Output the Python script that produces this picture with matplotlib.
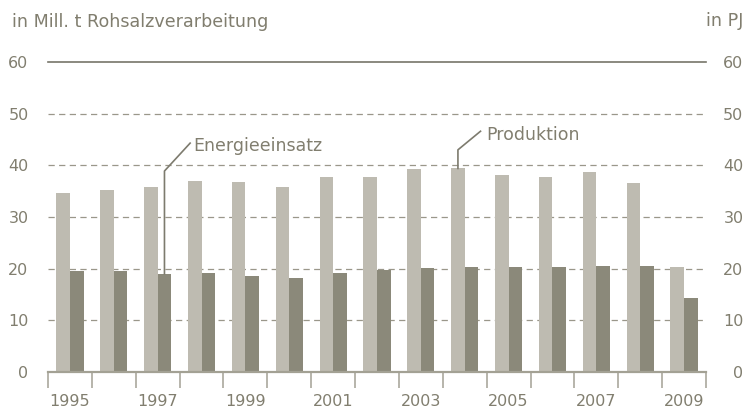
import matplotlib
matplotlib.use("Agg")
import matplotlib.pyplot as plt
import numpy as np

# Daten
jahre = list(range(1995, 2010))
produktion = [34.6, 35.2, 35.8, 37.0, 36.7, 35.8, 37.8, 37.8, 39.2, 39.4, 38.2, 37.8, 38.8, 36.6, 20.4]
energieeinsatz = [19.5, 19.5, 19.0, 19.2, 18.6, 18.1, 19.2, 19.8, 20.1, 20.4, 20.4, 20.4, 20.6, 20.6, 14.3]
y_ticks = [0, 10, 20, 30, 40, 50, 60]

# Farben
hell = "#bebbb1"
dunkel = "#8b897a"
text_farbe = "#817e6f"
linie = "#9a978a"

plt.rcParams["font.family"] = ["DejaVu Sans"]

fig = plt.figure(figsize=(7.48, 4.11), dpi=100)
ax = fig.add_axes([48 / 748, 1 - 372 / 411, (706 - 48) / 748, 310 / 411])

x = np.arange(len(jahre))
breite = 0.31
ax.bar(x - breite / 2, produktion, width=breite, color=hell, zorder=2)
ax.bar(x + breite / 2, energieeinsatz, width=breite, color=dunkel, zorder=2)

ax.set_xlim(-0.5, len(jahre) - 0.5)
ax.set_ylim(0, 60)

# Gitterlinien
for v in y_ticks[1:-1]:
    ax.axhline(v, color=linie, lw=0.9, linestyle=(0, (5, 3.5)), zorder=1)
ax.axhline(60, color="#77756a", lw=1.2, zorder=1, clip_on=False)

for s in ["top", "left", "right"]:
    ax.spines[s].set_visible(False)
ax.spines["bottom"].set_color("#a3a194")
ax.spines["bottom"].set_linewidth(1.6)

# x-Achse: Trennstriche zwischen den Jahren, Beschriftung jedes zweite Jahr
ax.set_xticks(x[::2])
ax.set_xticklabels([str(j) for j in jahre[::2]], fontsize=11.5, color=text_farbe)
ax.tick_params(axis="x", which="major", length=0, pad=16)
ax.set_xticks(np.arange(-0.5, len(jahre)), minor=True)
ax.tick_params(axis="x", which="minor", length=11.5, width=1.1, color="#a3a194")

# y-Achsen links und rechts
ax.set_yticks(y_ticks)
ax.set_yticklabels([str(v) for v in y_ticks], fontsize=11.5, color=text_farbe)
ax.tick_params(axis="y", length=0, pad=14)

ax2 = ax.twinx()
ax2.set_ylim(0, 60)
ax2.set_yticks(y_ticks)
ax2.set_yticklabels([str(v) for v in y_ticks], fontsize=11.5, color=text_farbe, ha="right")
ax2.tick_params(axis="y", length=0, pad=27)
for s in ax2.spines.values():
    s.set_visible(False)

# Beschriftungen mit Führungslinien
i = jahre.index(1997)
xe = i + breite / 2
ax.plot([xe, xe, 2.74], [energieeinsatz[i], 38.9, 44.3], color="#7d7b6e", lw=1.2, zorder=3)
ax.text(2.81, 42.8, "Energieeinsatz", fontsize=12.5, color=text_farbe, va="baseline", ha="left")

i = jahre.index(2004)
xp = i - breite / 2
ax.plot([xp, xp, 9.36], [produktion[i], 43.0, 46.6], color="#7d7b6e", lw=1.2, zorder=3)
ax.text(9.5, 44.9, "Produktion", fontsize=12.5, color=text_farbe, va="baseline", ha="left")

# Einheiten
fig.text(12 / 748, 1 - 27 / 411, "in Mill. t Rohsalzverarbeitung", fontsize=12.6, color=text_farbe, va="baseline")
fig.text(743 / 748, 1 - 26 / 411, "in PJ", fontsize=12.6, color=text_farbe, va="baseline", ha="right")

fig.savefig("out.png", dpi=100)
